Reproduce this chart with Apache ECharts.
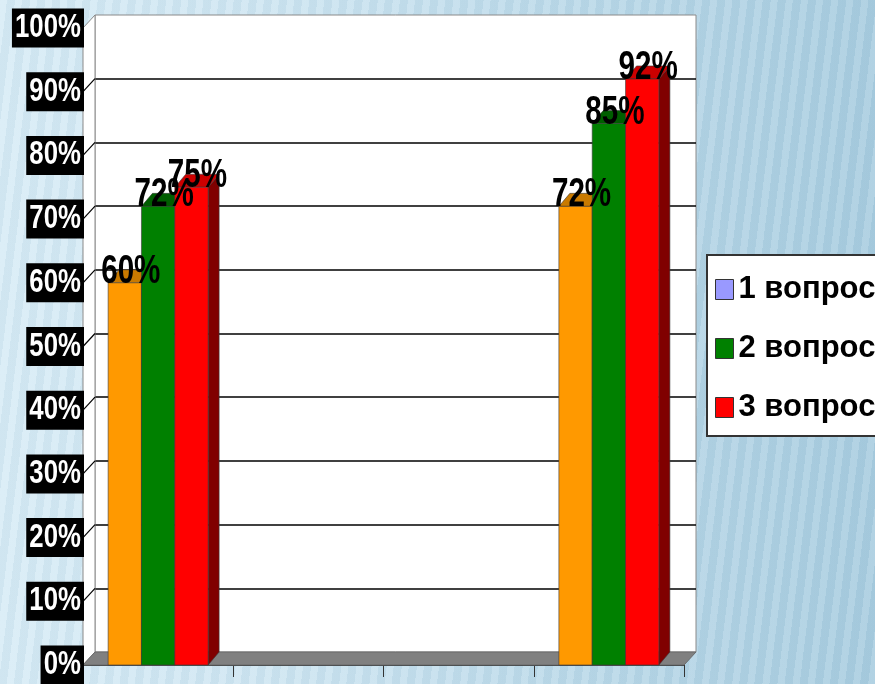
<!DOCTYPE html>
<html>
<head>
<meta charset="utf-8">
<script src="https://cdn.jsdelivr.net/npm/echarts@6/dist/echarts.min.js"></script>
<style>
html,body{margin:0;padding:0;width:875px;height:684px;overflow:hidden;}
body{
  background:
    repeating-linear-gradient(97deg, rgba(255,255,255,0.10) 0px, rgba(255,255,255,0.10) 7px, rgba(60,110,140,0.05) 7px, rgba(60,110,140,0.05) 15px),
    linear-gradient(90deg, #d8ecf6 0%, #cfe6f2 30%, #b9d8e8 70%, #a9cde0 100%);
}
#chart{width:875px;height:684px;}
</style>
</head>
<body>
<div id="chart"></div>
<script>
// ---- data ----
var categories = ['', '', '', ''];
var seriesNames = ['1 вопрос', '2 вопрос', '3 вопрос'];
var q1 = [60, null, null, 72];
var q2 = [72, null, null, 85];
var q3 = [75, null, null, 92];
var yTicks = [0, 10, 20, 30, 40, 50, 60, 70, 80, 90, 100];

var FONT = "'Liberation Sans', Arial, sans-serif";
var WALL_DX = 12, WALL_DY = 13;
var BAR_DX = 11, BAR_DY = 13;

function toData(arr) {
  var out = [];
  arr.forEach(function (v, i) { if (v !== null) out.push([i, v]); });
  return out;
}

function barRender(si, front, top, side) {
  return function (params, api) {
    var c = api.value(0), v = api.value(1);
    var p = api.coord([c, v]);
    var b = api.coord([c, 0]);
    var band = api.size([1, 0])[0];
    var w = band * (100 / 150.25) / 3;
    var x0 = p[0] - (w * 3) / 2 + si * w;
    var x1 = x0 + w;
    var border = { stroke: '#3a3a3a', lineWidth: 0.6 };
    return {
      type: 'group',
      children: [
        { type: 'polygon', shape: { points: [[x1, p[1]], [x1 + BAR_DX, p[1] - BAR_DY], [x1 + BAR_DX, b[1] - BAR_DY], [x1, b[1]]] },
          style: Object.assign({ fill: side }, border) },
        { type: 'polygon', shape: { points: [[x0, p[1]], [x0 + BAR_DX, p[1] - BAR_DY], [x1 + BAR_DX, p[1] - BAR_DY], [x1, p[1]]] },
          style: Object.assign({ fill: top }, border) },
        { type: 'rect', shape: { x: x0, y: p[1], width: w, height: b[1] - p[1] },
          style: Object.assign({ fill: front }, border) },
        { type: 'text', z2: 100, x: x0 + w / 2 + 6, y: p[1] - 11, scaleX: 0.74, scaleY: 1,
          style: { text: v + '%', x: 0, y: 0, align: 'center', verticalAlign: 'middle',
                   font: 'bold 40px ' + FONT, fill: '#000' } }
      ]
    };
  };
}

function frameRender(params, api) {
  var cs = params.coordSys;
  var L = cs.x, T = cs.y, R = cs.x + cs.width, B = cs.y + cs.height;
  var children = [];
  // left side wall
  children.push({ type: 'polygon', shape: { points: [[L, T], [L + WALL_DX, T - WALL_DY], [L + WALL_DX, B - WALL_DY], [L, B]] },
    style: { fill: '#ffffff', stroke: '#8a8a8a', lineWidth: 1 } });
  // grid lines on side wall
  yTicks.forEach(function (t) {
    if (t === 0 || t === 100) return;
    var y = api.coord([0, t])[1];
    children.push({ type: 'line', shape: { x1: L, y1: y, x2: L + WALL_DX, y2: y - WALL_DY },
      style: { stroke: '#000', lineWidth: 1.2 } });
  });
  // floor
  children.push({ type: 'polygon', shape: { points: [[L, B], [L + WALL_DX, B - WALL_DY], [R + WALL_DX, B - WALL_DY], [R, B]] },
    style: { fill: '#808080', stroke: '#6a6a6a', lineWidth: 1 } });
  // y tick labels (narrow bold, white on black)
  yTicks.forEach(function (t) {
    var y = api.coord([0, t])[1];
    children.push({ type: 'text', x: L + 1, y: y, scaleX: 0.78, scaleY: 1, z2: 50,
      style: { text: t + '%', x: 0, y: 0, align: 'right', verticalAlign: 'middle',
        font: 'bold 33px ' + FONT, fill: '#fff', backgroundColor: '#000', padding: [4, 4, 2, 4] } });
  });
  return { type: 'group', children: children };
}

var chart = echarts.init(document.getElementById('chart'), null, { renderer: 'canvas' });

var option = {
  backgroundColor: 'transparent',
  animation: false,
  grid: [
    { left: 83, top: 28, width: 601, height: 637, containLabel: false, outerBoundsMode: 'none' },
    { left: 95, top: 15, width: 601, height: 637, show: true, backgroundColor: '#ffffff', borderColor: '#8a8a8a', borderWidth: 1, outerBoundsMode: 'none' }
  ],
  xAxis: [
    { type: 'category', gridIndex: 0, data: categories,
      axisLine: { show: true, lineStyle: { color: '#000', width: 1.5 } },
      axisTick: { show: true, length: 12, lineStyle: { color: '#333', width: 1 } },
      axisLabel: { show: false }, splitLine: { show: false } },
    { type: 'category', gridIndex: 1, data: categories, show: false }
  ],
  yAxis: [
    { type: 'value', gridIndex: 0, min: 0, max: 100, interval: 10,
      axisLine: { show: true, lineStyle: { color: '#8a8a8a', width: 1 } },
      axisTick: { show: false }, splitLine: { show: false },
      axisLabel: { show: false } },
    { type: 'value', gridIndex: 1, min: 0, max: 100, interval: 10,
      axisLine: { show: false }, axisTick: { show: false }, axisLabel: { show: false },
      splitLine: { show: true, showMinLine: false, showMaxLine: false, lineStyle: { color: '#000', width: 1.6 } } }
  ],
  legend: {
    orient: 'vertical', left: 707, top: 255,
    backgroundColor: '#ffffff', borderColor: '#333', borderWidth: 2,
    padding: [14, 60, 8, 8],
    itemWidth: 18, itemHeight: 20, itemGap: 18, icon: 'rect',
    textStyle: { fontFamily: FONT, fontWeight: 'bold', fontSize: 31, lineHeight: 41, color: '#000' },
    data: [
      { name: seriesNames[0], itemStyle: { color: '#9999ff', borderColor: '#333', borderWidth: 1 } },
      { name: seriesNames[1], itemStyle: { color: '#008000', borderColor: '#333', borderWidth: 1 } },
      { name: seriesNames[2], itemStyle: { color: '#ff0000', borderColor: '#333', borderWidth: 1 } }
    ]
  },
  series: [
    { type: 'custom', name: 'frame', xAxisIndex: 0, yAxisIndex: 0, z: 1, silent: true, clip: false,
      renderItem: frameRender, data: [[0, 0]], encode: { x: 0, y: 1 } },
    { type: 'custom', name: seriesNames[0], xAxisIndex: 0, yAxisIndex: 0, z: 3,
      itemStyle: { color: '#ff9900' },
      renderItem: barRender(0, '#ff9900', '#c97a00', '#a05a00'), data: toData(q1), encode: { x: 0, y: 1 } },
    { type: 'custom', name: seriesNames[1], xAxisIndex: 0, yAxisIndex: 0, z: 3,
      itemStyle: { color: '#008000' },
      renderItem: barRender(1, '#008000', '#005e00', '#004000'), data: toData(q2), encode: { x: 0, y: 1 } },
    { type: 'custom', name: seriesNames[2], xAxisIndex: 0, yAxisIndex: 0, z: 3,
      itemStyle: { color: '#ff0000' },
      renderItem: barRender(2, '#ff0000', '#cc0000', '#800000'), data: toData(q3), encode: { x: 0, y: 1 } }
  ]
};
chart.setOption(option);
</script>
</body>
</html>
